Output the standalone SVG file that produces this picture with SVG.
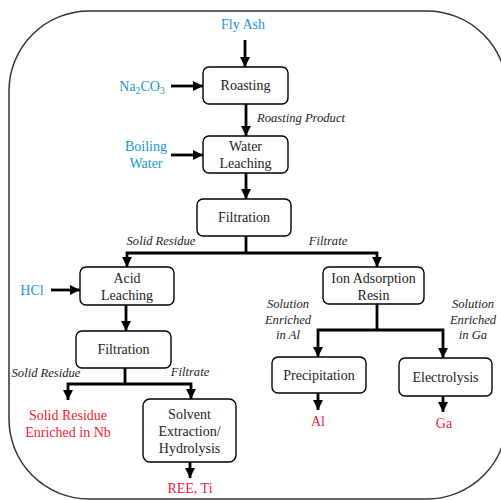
<svg xmlns="http://www.w3.org/2000/svg" width="501" height="500" viewBox="0 0 501 500">
  <defs>
    <marker id="arrow" markerUnits="userSpaceOnUse" markerWidth="10" markerHeight="10" viewBox="0 0 10 10" refX="10" refY="5" orient="auto">
      <path d="M0,0 L10,5 L0,10 Z" fill="#000"/>
    </marker>
    <style>
      .box { fill: #fff; stroke: #000; stroke-width: 1.4; }
      text { font-family: 'Liberation Serif', 'DejaVu Serif', serif; }
      .lbl { font-size: 14px; fill: #222; text-anchor: middle; }
      .note { font-size: 12.6px; font-style: italic; fill: #222; text-anchor: middle; }
      .in { font-size: 14px; fill: #1a96d4; text-anchor: middle; }
      .out { font-size: 14px; fill: #ee2233; text-anchor: middle; }
      .flow { fill: none; stroke: #000; stroke-width: 2.8; }
      .flow-a { fill: none; stroke: #000; stroke-width: 2.8; marker-end: url(#arrow); }
    </style>
  </defs>

  <!-- outer frame -->
  <rect x="9" y="11" width="498" height="488" rx="80" ry="80" fill="none" stroke="#333" stroke-width="1.5"/>

  <!-- connectors -->
  <g id="connectors">
    <line class="flow-a" x1="245" y1="40" x2="245" y2="67"/>
    <line class="flow-a" x1="171" y1="86" x2="203" y2="86"/>
    <line class="flow-a" x1="246" y1="104" x2="246" y2="136"/>
    <line class="flow-a" x1="171" y1="155" x2="203" y2="155"/>
    <line class="flow-a" x1="246" y1="173" x2="246" y2="199"/>
    <polyline class="flow" points="246,236 246,253"/>
    <polyline class="flow-a" points="246,253 127,253 127,267"/>
    <polyline class="flow-a" points="246,253 377,253 377,267"/>
    <line class="flow-a" x1="51" y1="290" x2="80" y2="290"/>
    <line class="flow-a" x1="126" y1="305" x2="126" y2="331"/>
    <polyline class="flow" points="125,368 125,384"/>
    <polyline class="flow-a" points="125,384 68,384 68,400"/>
    <polyline class="flow-a" points="125,384 191,384 191,399"/>
    <line class="flow-a" x1="190" y1="462" x2="190" y2="478"/>
    <polyline class="flow" points="377,304 377,330"/>
    <polyline class="flow-a" points="377,330 318,330 318,357"/>
    <polyline class="flow-a" points="377,330 443,330 443,358"/>
    <line class="flow-a" x1="318" y1="393" x2="318" y2="410"/>
    <line class="flow-a" x1="443" y1="396" x2="443" y2="412"/>
  </g>

  <!-- inputs -->
  <text class="in" x="243" y="29">Fly Ash</text>
  <text class="in" x="142" y="91">Na<tspan font-size="9.5" dy="3">2</tspan><tspan dy="-3">CO</tspan><tspan font-size="9.5" dy="3">3</tspan></text>
  <text class="in" x="146" y="151">Boiling</text>
  <text class="in" x="146" y="168">Water</text>
  <text class="in" x="32" y="295">HCl</text>

  <!-- stream notes -->
  <text class="note" x="301" y="122">Roasting Product</text>
  <text class="note" x="161" y="245">Solid Residue</text>
  <text class="note" x="328" y="245">Filtrate</text>
  <text class="note" x="46" y="377">Solid Residue</text>
  <text class="note" x="190" y="376">Filtrate</text>
  <text class="note" x="288" y="308">Solution</text>
  <text class="note" x="288" y="324">Enriched</text>
  <text class="note" x="288" y="339">in Al</text>
  <text class="note" x="473" y="308">Solution</text>
  <text class="note" x="473" y="324">Enriched</text>
  <text class="note" x="473" y="339">in Ga</text>

  <!-- process steps -->
  <g id="roasting">
    <rect class="box" x="203" y="67" width="85" height="37" rx="6"/>
    <text class="lbl" x="245.5" y="90">Roasting</text>
  </g>
  <g id="water-leaching">
    <rect class="box" x="203" y="136" width="85" height="37" rx="6"/>
    <text class="lbl" x="245.5" y="151">Water</text>
    <text class="lbl" x="245.5" y="168">Leaching</text>
  </g>
  <g id="filtration-1">
    <rect class="box" x="197" y="199" width="94" height="37" rx="6"/>
    <text class="lbl" x="244" y="222">Filtration</text>
  </g>
  <g id="acid-leaching">
    <rect class="box" x="80" y="267" width="94" height="38" rx="6"/>
    <text class="lbl" x="127" y="283">Acid</text>
    <text class="lbl" x="127" y="300">Leaching</text>
  </g>
  <g id="filtration-2">
    <rect class="box" x="76" y="331" width="95" height="37" rx="6"/>
    <text class="lbl" x="123.5" y="354">Filtration</text>
  </g>
  <g id="solvent-extraction">
    <rect class="box" x="143" y="399" width="93" height="63" rx="7"/>
    <text class="lbl" x="189.5" y="419">Solvent</text>
    <text class="lbl" x="189.5" y="436">Extraction/</text>
    <text class="lbl" x="189.5" y="453">Hydrolysis</text>
  </g>
  <g id="ion-adsorption">
    <rect class="box" x="323" y="267" width="101" height="37" rx="6"/>
    <text class="lbl" x="373.5" y="283">Ion Adsorption</text>
    <text class="lbl" x="373.5" y="300">Resin</text>
  </g>
  <g id="precipitation">
    <rect class="box" x="272" y="357" width="94" height="36" rx="6"/>
    <text class="lbl" x="319" y="380">Precipitation</text>
  </g>
  <g id="electrolysis">
    <rect class="box" x="399" y="358" width="93" height="38" rx="6"/>
    <text class="lbl" x="445.5" y="382">Electrolysis</text>
  </g>

  <!-- products -->
  <text class="out" x="68" y="420">Solid Residue</text>
  <text class="out" x="68" y="437">Enriched in Nb</text>
  <text class="out" x="190" y="493">REE, Ti</text>
  <text class="out" x="318" y="426">Al</text>
  <text class="out" x="444" y="428">Ga</text>
</svg>
